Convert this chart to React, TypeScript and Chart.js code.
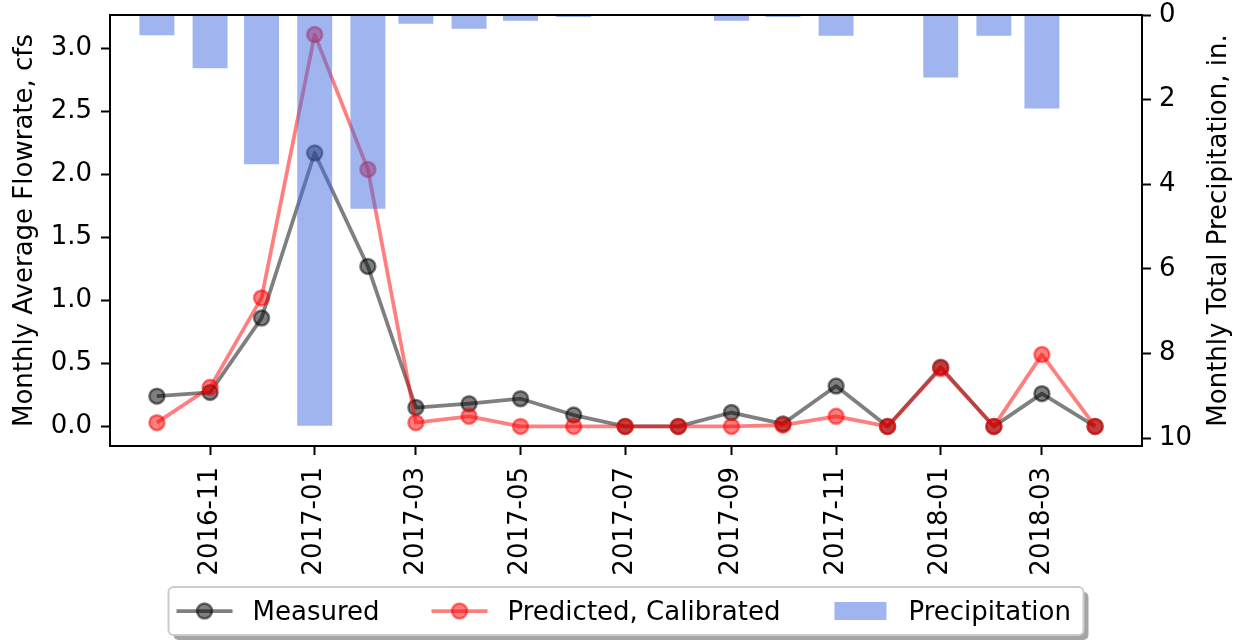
import React, { useEffect, useRef } from "react";
import { Chart, registerables } from "chart.js";

Chart.register(...registerables);

// Monthly observations (first of each month)
const months = [
  "2016-10", "2016-11", "2016-12", "2017-01", "2017-02", "2017-03", "2017-04",
  "2017-05", "2017-06", "2017-07", "2017-08", "2017-09", "2017-10", "2017-11",
  "2017-12", "2018-01", "2018-02", "2018-03", "2018-04",
];

// Monthly average flowrate, cfs
const measuredFlow = [
  0.24, 0.27, 0.86, 2.17, 1.27, 0.15, 0.18, 0.22, 0.09, 0.0,
  0.0, 0.11, 0.02, 0.32, 0.0, 0.47, 0.0, 0.26, 0.0,
];
const predictedFlow = [
  0.03, 0.31, 1.02, 3.11, 2.04, 0.03, 0.08, 0.0, 0.0, 0.0,
  0.0, 0.0, 0.01, 0.08, 0.0, 0.46, 0.0, 0.57, 0.0,
];

// Monthly total precipitation, in.
const precipitation = [
  0.47, 1.25, 3.52, 9.7, 4.57, 0.2, 0.32, 0.13, 0.04, 0.0,
  0.0, 0.13, 0.04, 0.48, 0.0, 1.47, 0.48, 2.2, 0.0,
];

const flowTicks = [0, 0.5, 1.0, 1.5, 2.0, 2.5, 3.0];
const precipTicks = [0, 2, 4, 6, 8, 10];
const dateTicks = [
  "2016-11", "2017-01", "2017-03", "2017-05", "2017-07",
  "2017-09", "2017-11", "2018-01", "2018-03",
];

const measuredLabel = "Measured";
const predictedLabel = "Predicted, Calibrated";
const precipLabel = "Precipitation";
const flowAxisTitle = "Monthly Average Flowrate, cfs";
const precipAxisTitle = "Monthly Total Precipitation, in.";

const FAMILY = "'DejaVu Sans', 'Liberation Sans', sans-serif";
const FONT_SIZE = 26;
const BLACK_A = "rgba(0,0,0,0.5)";
const RED_A = "rgba(255,0,0,0.5)";
const BLUE_A = "rgba(65,105,225,0.5)";

// Days since the first month, so the x axis is proportional to time
const DAY_MS = 86400000;
const utcOf = (ym: string) => {
  const [y, m] = ym.split("-").map(Number);
  return Date.UTC(y, m - 1, 1);
};
const dayOf = (ym: string) => (utcOf(ym) - utcOf(months[0])) / DAY_MS;
const xDays = months.map(dayOf);
const xSpan = xDays[xDays.length - 1] - xDays[0];
const xMin = xDays[0] - 0.05 * xSpan;
const xMax = xDays[xDays.length - 1] + 0.05 * xSpan;

const flowPeak = Math.max(...measuredFlow, ...predictedFlow);
const flowMin = -0.05 * flowPeak;
const flowMax = flowPeak * 1.05;
const precipMax = Math.max(...precipitation) * 1.05;

const dateLabelByDay = new Map(dateTicks.map((d) => [dayOf(d), d]));

const tickFont = { family: FAMILY, size: FONT_SIZE };
const axisGrid = {
  drawOnChartArea: false,
  drawTicks: true,
  tickLength: 9,
  tickWidth: 2,
  tickColor: "#000",
  color: "#000",
  offset: false,
};
const axisBorder = { display: true, color: "#000", width: 2 };

const fixSize = (dim: "width" | "height", size: number) => (scale: any) => {
  scale[dim] = size;
  scale.paddingTop = 0;
  scale.paddingBottom = 0;
  scale.paddingLeft = 0;
  scale.paddingRight = 0;
};

function drawVerticalText(ctx: CanvasRenderingContext2D, text: string, x: number, y: number) {
  ctx.save();
  ctx.translate(x, y);
  ctx.rotate(-Math.PI / 2);
  ctx.fillText(text, 0, 0);
  ctx.restore();
}

function roundRect(ctx: CanvasRenderingContext2D, x: number, y: number, w: number, h: number, r: number) {
  ctx.beginPath();
  ctx.moveTo(x + r, y);
  ctx.lineTo(x + w - r, y);
  ctx.arcTo(x + w, y, x + w, y + r, r);
  ctx.lineTo(x + w, y + h - r);
  ctx.arcTo(x + w, y + h, x + w - r, y + h, r);
  ctx.lineTo(x + r, y + h);
  ctx.arcTo(x, y + h, x, y + h - r, r);
  ctx.lineTo(x, y + r);
  ctx.arcTo(x, y, x + r, y, r);
  ctx.closePath();
}

// Top spine, axis titles and a framed legend under the axis labels
const decorations = {
  id: "decorations",
  afterDraw(chart: any) {
    const { ctx, chartArea: a } = chart;
    ctx.save();

    ctx.strokeStyle = "#000";
    ctx.lineWidth = 2;
    ctx.beginPath();
    ctx.moveTo(a.left - 1, a.top);
    ctx.lineTo(a.right + 1, a.top);
    ctx.stroke();

    ctx.fillStyle = "#000";
    ctx.font = `${FONT_SIZE}px ${FAMILY}`;
    ctx.textAlign = "center";
    ctx.textBaseline = "alphabetic";
    const midY = (a.top + a.bottom) / 2;
    drawVerticalText(ctx, flowAxisTitle, a.left - 78, midY);
    drawVerticalText(ctx, precipAxisTitle, a.right + 84, midY);

    // legend layout
    const datasets = chart.data.datasets;
    const handleLen = 56;
    const textGap = 20;
    const colGap = 52;
    const padL = 8;
    const padR = 12.5;
    ctx.textAlign = "left";
    const widths = datasets.map((d: any) => ctx.measureText(d.label).width);
    let total = padL + padR;
    widths.forEach((w: number, i: number) => {
      total += handleLen + textGap + w + (i < widths.length - 1 ? colGap : 0);
    });
    const boxH = 48;
    const boxTop = a.bottom + 141;
    const boxLeft = (a.left + a.right) / 2 - total / 2;
    const cy = boxTop + boxH / 2;

    ctx.fillStyle = "rgba(76,76,76,0.5)";
    roundRect(ctx, boxLeft + 5, boxTop + 5, total, boxH, 5);
    ctx.fill();
    ctx.fillStyle = "#fff";
    roundRect(ctx, boxLeft, boxTop, total, boxH, 5);
    ctx.fill();
    ctx.strokeStyle = "#cccccc";
    ctx.lineWidth = 2;
    ctx.stroke();

    let x = boxLeft + padL;
    datasets.forEach((d: any, i: number) => {
      if (d.type === "bar") {
        ctx.fillStyle = d.backgroundColor;
        ctx.fillRect(x + 2, cy - 9, 52, 18);
      } else {
        ctx.strokeStyle = d.borderColor;
        ctx.lineWidth = d.borderWidth;
        ctx.beginPath();
        ctx.moveTo(x, cy);
        ctx.lineTo(x + handleLen, cy);
        ctx.stroke();
        ctx.beginPath();
        ctx.arc(x + handleLen / 2, cy, d.pointRadius, 0, Math.PI * 2);
        ctx.fillStyle = d.pointBackgroundColor;
        ctx.fill();
        ctx.strokeStyle = d.pointBorderColor;
        ctx.lineWidth = d.pointBorderWidth;
        ctx.stroke();
      }
      const tx = x + handleLen + textGap;
      ctx.fillStyle = "#000";
      ctx.fillText(d.label, tx, cy + 8.5);
      x = tx + widths[i] + colGap;
    });

    ctx.restore();
  },
};

export default function App() {
  const canvasRef = useRef<HTMLCanvasElement>(null);

  useEffect(() => {
    const lineStyle = (color: string) => ({
      borderColor: color,
      backgroundColor: color,
      borderWidth: 3.75,
      borderJoinStyle: "round" as const,
      pointRadius: 7.5,
      pointBorderWidth: 2.5,
      pointBackgroundColor: color,
      pointBorderColor: color,
      tension: 0,
      fill: false,
    });

    const chart = new Chart(canvasRef.current as HTMLCanvasElement, {
      type: "line",
      data: {
        datasets: [
          {
            type: "line",
            label: measuredLabel,
            data: xDays.map((x, i) => ({ x, y: measuredFlow[i] })),
            yAxisID: "y",
            order: 2,
            ...lineStyle(BLACK_A),
          },
          {
            type: "line",
            label: predictedLabel,
            data: xDays.map((x, i) => ({ x, y: predictedFlow[i] })),
            yAxisID: "y",
            order: 1,
            ...lineStyle(RED_A),
          },
          {
            type: "bar",
            label: precipLabel,
            data: xDays.map((x, i) => ({ x, y: precipitation[i] })),
            yAxisID: "y1",
            order: 0,
            backgroundColor: BLUE_A,
            borderWidth: 0,
            barThickness: 34.3,
          },
        ] as any,
      },
      options: {
        animation: false,
        responsive: false,
        devicePixelRatio: 1,
        events: [],
        layout: { padding: { top: 15, left: 0, right: 0, bottom: 0 } },
        plugins: {
          legend: { display: false },
          tooltip: { enabled: false },
        },
        scales: {
          x: {
            type: "linear",
            min: xMin,
            max: xMax,
            offset: false,
            grid: axisGrid,
            border: axisBorder,
            ticks: {
              font: tickFont,
              color: "#000",
              minRotation: 90,
              maxRotation: 90,
              autoSkip: false,
              padding: 12,
              callback: (v: any) => dateLabelByDay.get(Number(v)) ?? "",
            },
            afterBuildTicks: (scale: any) => {
              scale.ticks = dateTicks.map((d) => ({ value: dayOf(d) }));
            },
            afterFit: fixSize("height", 195),
          },
          y: {
            type: "linear",
            position: "left",
            min: flowMin,
            max: flowMax,
            grid: axisGrid,
            border: axisBorder,
            ticks: {
              font: tickFont,
              color: "#000",
              padding: 9,
              callback: (v: any) => Number(v).toFixed(1),
            },
            afterBuildTicks: (scale: any) => {
              scale.ticks = flowTicks.map((v) => ({ value: v }));
            },
            afterFit: fixSize("width", 110),
          },
          y1: {
            type: "linear",
            position: "right",
            min: 0,
            max: precipMax,
            reverse: true,
            grid: axisGrid,
            border: axisBorder,
            ticks: {
              font: tickFont,
              color: "#000",
              padding: 8,
              callback: (v: any) => String(Math.round(Number(v))),
            },
            afterBuildTicks: (scale: any) => {
              scale.ticks = precipTicks.map((v) => ({ value: v }));
            },
            afterFit: fixSize("width", 104),
          },
        },
      } as any,
      plugins: [decorations],
    });

    return () => chart.destroy();
  }, []);

  return (
    <div
      style={{
        position: "fixed",
        left: 0,
        top: 0,
        width: 1246,
        height: 641,
        background: "#fff",
      }}
    >
      <canvas
        ref={canvasRef}
        width={1246}
        height={641}
        style={{ display: "block", width: 1246, height: 641 }}
      />
    </div>
  );
}
